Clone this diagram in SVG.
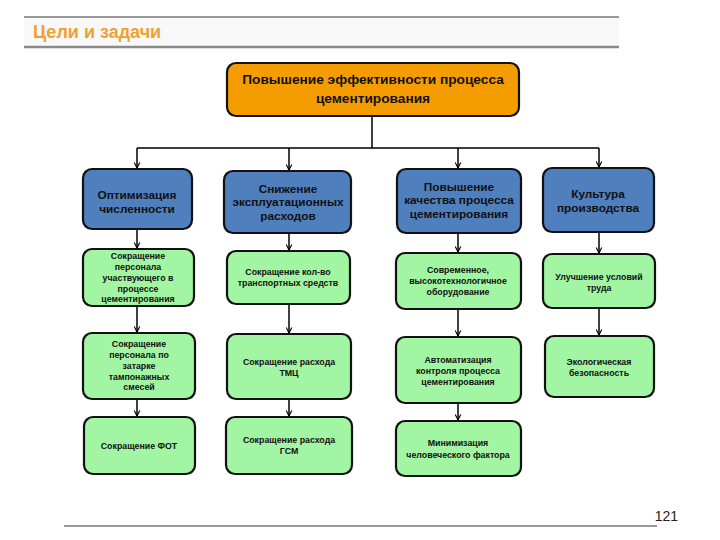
<svg xmlns="http://www.w3.org/2000/svg" width="720" height="540" viewBox="0 0 720 540">
<defs>
<marker id="arr" viewBox="0 0 10 10" refX="9" refY="5" markerWidth="7" markerHeight="7" markerUnits="userSpaceOnUse" orient="auto">
<path d="M1,1 L9,5 L1,9" fill="none" stroke="#000" stroke-width="1.6"/>
</marker>
<style>
.t{font-family:"Liberation Sans",Arial,sans-serif;font-weight:bold;text-anchor:middle;fill:#111}
.top{fill:#f59d00;stroke:#111;stroke-width:2.2}
.blue{fill:#4f7fbc;stroke:#111;stroke-width:2.2}
.green{fill:#a2f5a2;stroke:#111;stroke-width:2.2}
.c{fill:none;stroke:#000;stroke-width:1.5}
.ca{fill:none;stroke:#000;stroke-width:1.5;marker-end:url(#arr)}
.tt{font-size:13.7px}
.tb{font-size:11.8px}
.tg{font-size:8.8px}
</style>
</defs>
<rect width="720" height="540" fill="#fff"/>
<g id="header">
<rect x="24" y="17" width="595" height="30" fill="#f8f8f8"/>
<line x1="24" y1="17" x2="619" y2="17" stroke="#333" stroke-width="1"/>
<line x1="24" y1="47" x2="619" y2="47" stroke="#8a8a8a" stroke-width="2.5"/>
<text x="33" y="38" font-family="'Liberation Sans',Arial,sans-serif" font-weight="bold" font-size="18" fill="#f0a030">Цели и задачи</text>
</g>
<g id="footer">
<line x1="64" y1="526" x2="657" y2="526" stroke="#777" stroke-width="1.6"/>
<text x="678" y="521" font-family="'Liberation Sans',Arial,sans-serif" font-size="14" text-anchor="end" fill="#222">121</text>
</g>
<g id="connectors">
<path class="c" d="M372,116 V148 M137,148 H599"/>
<path class="ca" d="M137,148 V168"/>
<path class="ca" d="M289,148 V170"/>
<path class="ca" d="M458,148 V168"/>
<path class="ca" d="M599,148 V167"/>
<path class="ca" d="M137,229 V248"/>
<path class="ca" d="M137,306 V332"/>
<path class="ca" d="M137,399 V416"/>
<path class="ca" d="M289,233 V250"/>
<path class="ca" d="M289,304 V333"/>
<path class="ca" d="M289,399 V416"/>
<path class="ca" d="M458,233 V252"/>
<path class="ca" d="M458,309 V336"/>
<path class="ca" d="M458,403 V420"/>
<path class="ca" d="M599,232 V253"/>
<path class="ca" d="M599,308 V335"/>
</g>
<g id="root">
<rect class="top" x="227" y="63" width="292" height="53" rx="9"/>
<text class="t tt" x="373" y="84">Повышение эффективности процесса</text>
<text class="t tt" x="373" y="103">цементирования</text>
</g>
<g id="b1">
<rect class="blue" x="83" y="169" width="109" height="60" rx="9"/>
<text class="t tb" x="137" y="199">Оптимизация</text>
<text class="t tb" x="137" y="213">численности</text>
</g>
<g id="b2">
<rect class="blue" x="224" y="171" width="127" height="62" rx="9"/>
<text class="t tb" x="288" y="193">Снижение</text>
<text class="t tb" x="288" y="206">эксплуатационных</text>
<text class="t tb" x="288" y="220">расходов</text>
</g>
<g id="b3">
<rect class="blue" x="397" y="169" width="124" height="64" rx="9"/>
<text class="t tb" x="459" y="191">Повышение</text>
<text class="t tb" x="459" y="204">качества процесса</text>
<text class="t tb" x="459" y="218">цементирования</text>
</g>
<g id="b4">
<rect class="blue" x="543" y="168" width="111" height="64" rx="9"/>
<text class="t tb" x="598" y="198">Культура</text>
<text class="t tb" x="598" y="212">производства</text>
</g>
<g id="g11">
<rect class="green" x="83" y="249" width="111" height="57" rx="9"/>
<text class="t tg" x="138" y="259">Сокращение</text>
<text class="t tg" x="138" y="270">персонала</text>
<text class="t tg" x="138" y="281">участвующего в</text>
<text class="t tg" x="138" y="292">процессе</text>
<text class="t tg" x="138" y="302">цементирования</text>
</g>
<g id="g21">
<rect class="green" x="227" y="251" width="123" height="53" rx="9"/>
<text class="t tg" x="288" y="275">Сокращение кол-во</text>
<text class="t tg" x="288" y="286">транспортных средств</text>
</g>
<g id="g31">
<rect class="green" x="396" y="253" width="125" height="56" rx="9"/>
<text class="t tg" x="458" y="273">Современное,</text>
<text class="t tg" x="458" y="284">высокотехнологичное</text>
<text class="t tg" x="458" y="295">оборудование</text>
</g>
<g id="g41">
<rect class="green" x="543" y="254" width="112" height="54" rx="9"/>
<text class="t tg" x="599" y="280">Улучшение условий</text>
<text class="t tg" x="599" y="291">труда</text>
</g>
<g id="g12">
<rect class="green" x="83" y="333" width="112" height="66" rx="9"/>
<text class="t tg" x="139" y="347">Сокращение</text>
<text class="t tg" x="139" y="358">персонала по</text>
<text class="t tg" x="139" y="369">затарке</text>
<text class="t tg" x="139" y="380">тампонажных</text>
<text class="t tg" x="139" y="390">смесей</text>
</g>
<g id="g22">
<rect class="green" x="227" y="334" width="124" height="65" rx="9"/>
<text class="t tg" x="289" y="365">Сокращение расхода</text>
<text class="t tg" x="289" y="376">ТМЦ</text>
</g>
<g id="g32">
<rect class="green" x="396" y="337" width="125" height="66" rx="9"/>
<text class="t tg" x="458" y="363">Автоматизация</text>
<text class="t tg" x="458" y="374">контроля процесса</text>
<text class="t tg" x="458" y="385">цементирования</text>
</g>
<g id="g42">
<rect class="green" x="545" y="336" width="109" height="61" rx="9"/>
<text class="t tg" x="599" y="365">Экологическая</text>
<text class="t tg" x="599" y="376">безопасность</text>
</g>
<g id="g13">
<rect class="green" x="84" y="417" width="111" height="57" rx="9"/>
<text class="t tg" x="139" y="449">Сокращение ФОТ</text>
</g>
<g id="g23">
<rect class="green" x="226" y="417" width="126" height="57" rx="9"/>
<text class="t tg" x="289" y="443">Сокращение расхода</text>
<text class="t tg" x="289" y="454">ГСМ</text>
</g>
<g id="g33">
<rect class="green" x="396" y="421" width="125" height="55" rx="9"/>
<text class="t tg" x="458" y="446">Минимизация</text>
<text class="t tg" x="458" y="458">человеческого фактора</text>
</g>
</svg>
